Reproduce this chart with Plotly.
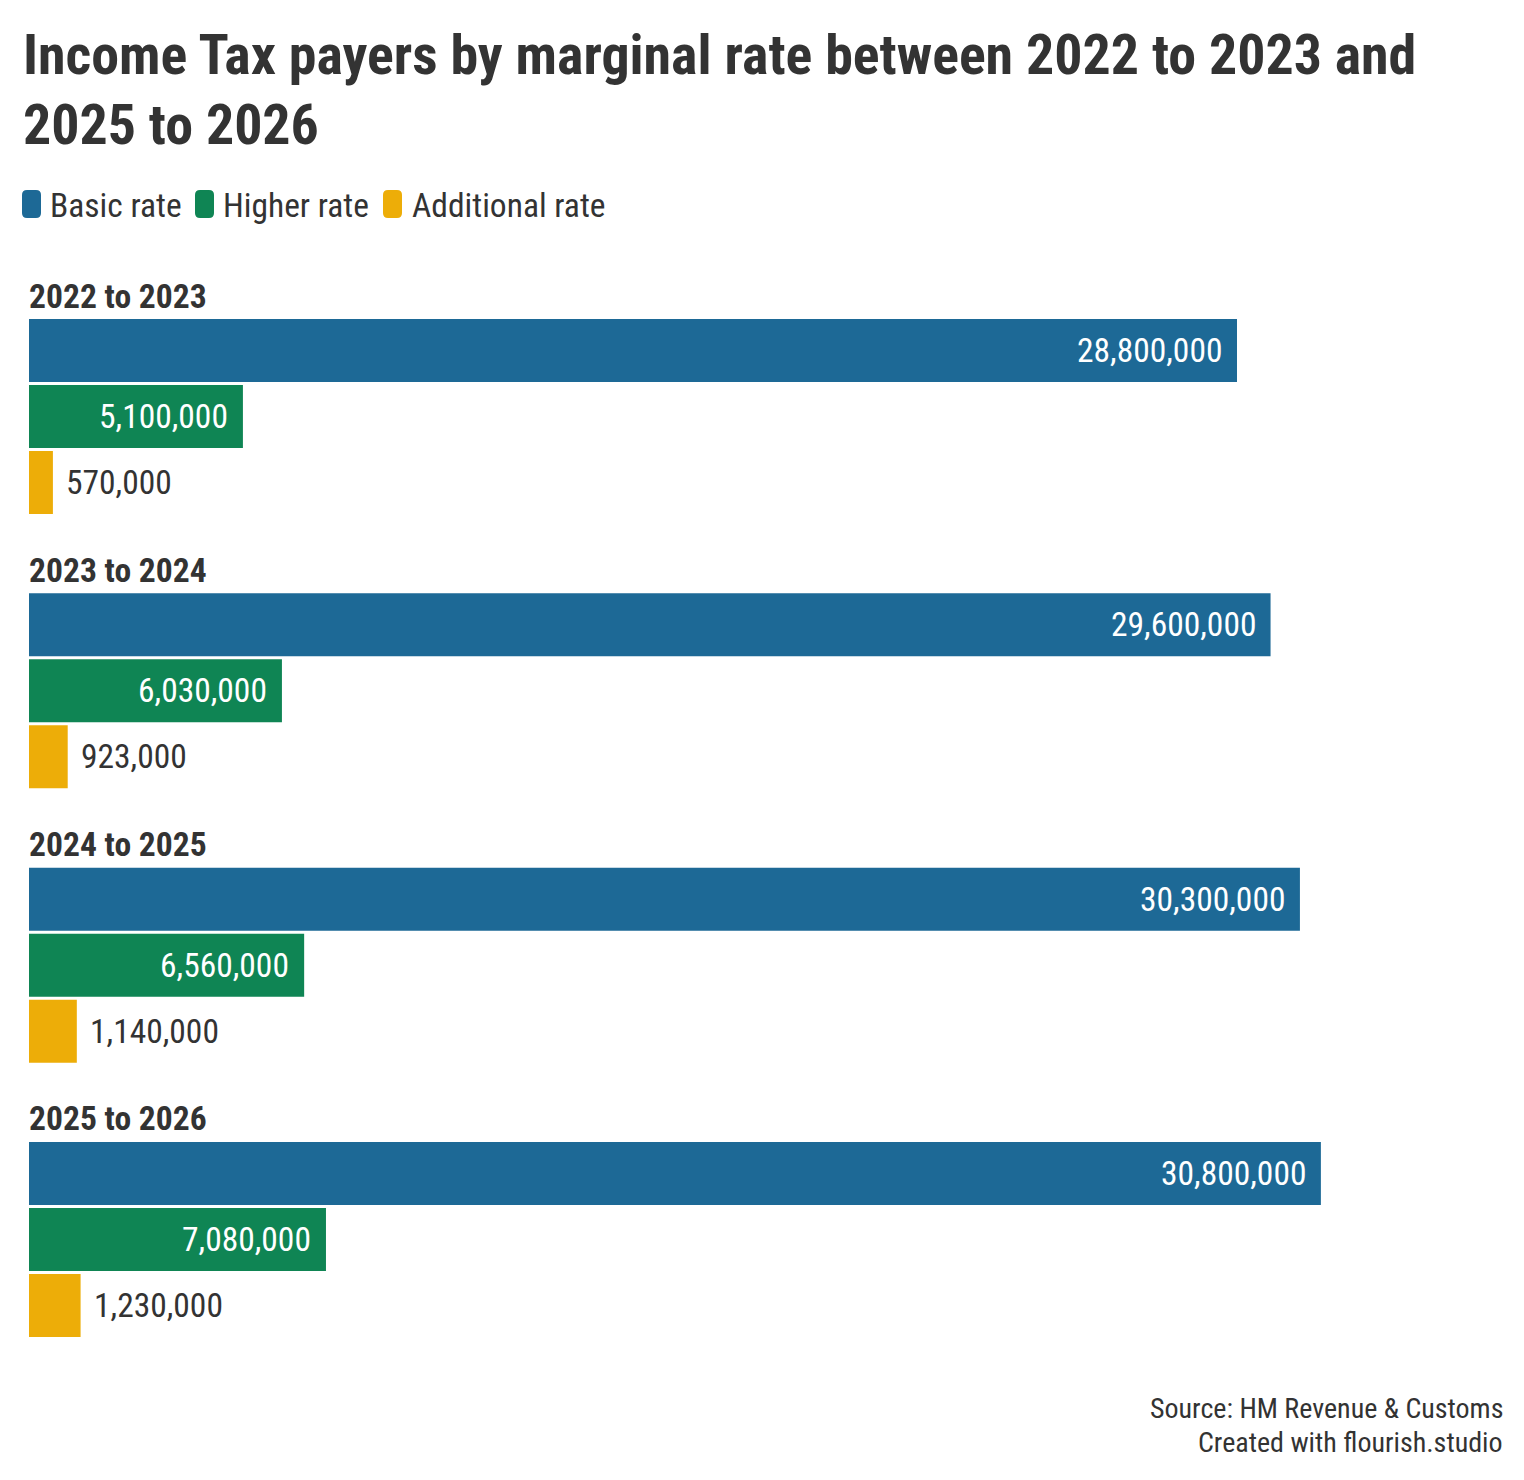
import plotly.graph_objects as go
from plotly.subplots import make_subplots

periods = ["2022 to 2023", "2023 to 2024", "2024 to 2025", "2025 to 2026"]
rates = ["Basic rate", "Higher rate", "Additional rate"]
basic = [28800000, 29600000, 30300000, 30800000]
higher = [5100000, 6030000, 6560000, 7080000]
additional = [570000, 923000, 1140000, 1230000]
colors = ["#1d6996", "#0f8554", "#edad08"]

W, H = 1524, 1480
OFF = 8  # page body margin
ML, MR = 29 - OFF, 24
PW = W - ML - MR
XMAX = PW * 28.8e6 / 1208
FONT = "Roboto Condensed, Liberation Sans Narrow, Roboto, sans-serif"
TXT = "#333333"
series = [basic, higher, additional]


def xp(px):
    return (px - OFF - ML) / PW


def yp(py):
    return 1 - (py - OFF) / H


fig = make_subplots(rows=4, cols=1)

for g, period in enumerate(periods):
    row = g + 1
    for k, rate in enumerate(rates):
        val = series[k][g]
        fig.add_trace(go.Bar(
            x=[val], y=[rate], orientation="h", name=rate,
            marker=dict(color=colors[k], line=dict(width=0)),
            showlegend=False, hoverinfo="skip",
        ), row=row, col=1)
        inside = k < 2
        fig.add_annotation(
            x=val, y=rate, xref=f"x{row}", yref=f"y{row}",
            text=f"{val:,}", showarrow=False,
            xanchor="right" if inside else "left",
            xshift=-13 if inside else 11,
            font=dict(family=FONT, size=33.5, color="white" if inside else TXT),
        )
    top = 317.5 + 274.33 * g
    fig.layout[f"yaxis{row}"].update(
        domain=[yp(top + 198), yp(top)],
        categoryorder="array", categoryarray=rates, autorange="reversed",
        showticklabels=False, showgrid=False, zeroline=False,
    )
    fig.layout[f"xaxis{row}"].update(
        range=[0, XMAX], showticklabels=False, showgrid=False, zeroline=False,
    )
    fig.add_annotation(
        x=0, y=yp(top), xref="paper", yref="paper", yanchor="bottom", xanchor="left",
        xshift=-2, text=f"<b>{period}</b>", showarrow=False,
        font=dict(family=FONT, size=33.6, color=TXT),
    )

# title (two lines, set as separate annotations for exact line spacing)
title_lines = ["Income Tax payers by marginal rate between 2022 to 2023 and", "2025 to 2026"]
for line, cy in zip(title_lines, [55, 125]):
    fig.add_annotation(
        x=xp(21), y=yp(cy), xref="paper", yref="paper", xanchor="left", yanchor="middle",
        text=f"<b>{line}</b>", showarrow=False,
        font=dict(family=FONT, size=55.9, color=TXT),
    )

# legend: rounded swatches + labels
legend_swatch_x = [22, 195, 383]
legend_text_x = [48, 221, 410]
sw, sy0, sy1, r = 19, 190, 218, 5
for k, rate in enumerate(rates):
    x0 = legend_swatch_x[k]
    x1 = x0 + sw
    path = (
        f"M{xp(x0 + r)},{yp(sy0)} L{xp(x1 - r)},{yp(sy0)} Q{xp(x1)},{yp(sy0)} {xp(x1)},{yp(sy0 + r)} "
        f"L{xp(x1)},{yp(sy1 - r)} Q{xp(x1)},{yp(sy1)} {xp(x1 - r)},{yp(sy1)} "
        f"L{xp(x0 + r)},{yp(sy1)} Q{xp(x0)},{yp(sy1)} {xp(x0)},{yp(sy1 - r)} "
        f"L{xp(x0)},{yp(sy0 + r)} Q{xp(x0)},{yp(sy0)} {xp(x0 + r)},{yp(sy0)} Z"
    )
    fig.add_shape(type="path", path=path, xref="paper", yref="paper",
                  fillcolor=colors[k], line=dict(width=0))
    fig.add_annotation(
        x=xp(legend_text_x[k]), y=yp(205), xref="paper", yref="paper",
        xanchor="left", yanchor="middle", text=rate, showarrow=False,
        font=dict(family=FONT, size=33.5, color=TXT),
    )

for text, cy in [("Source: HM Revenue & Customs", 1408), ("Created with flourish.studio", 1442)]:
    fig.add_annotation(
        x=xp(1505), y=yp(cy), xref="paper", yref="paper", xanchor="right", yanchor="middle",
        showarrow=False, text=text,
        font=dict(family=FONT, size=28, color=TXT),
    )

fig.update_layout(
    width=W, height=H,
    margin=dict(l=ML, r=MR, t=0, b=0),
    paper_bgcolor="white", plot_bgcolor="white",
    barmode="overlay", bargap=0.045,
    showlegend=False,
    font=dict(family=FONT, color=TXT),
)

fig.write_html("out.html")
